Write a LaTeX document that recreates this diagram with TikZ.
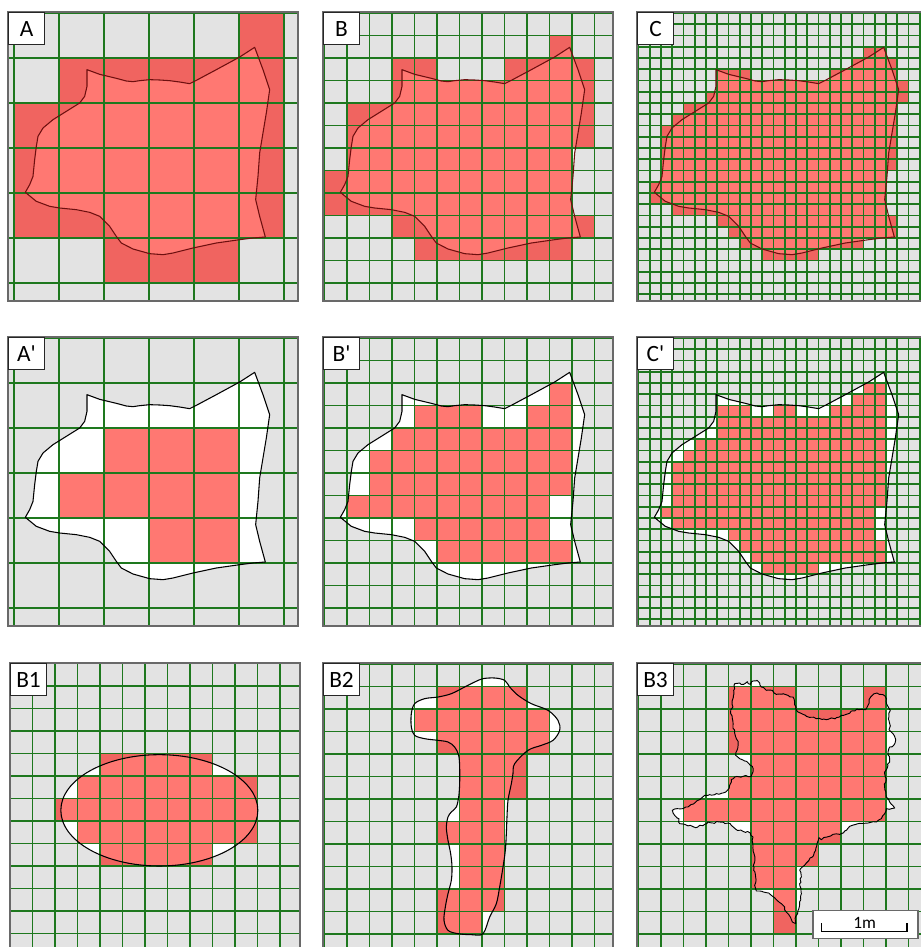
\documentclass[tikz,border=0pt]{standalone}
\usepackage{fontspec}
\newfontfamily\lblfont{Carlito}
\usetikzlibrary{decorations.pathmorphing}

\definecolor{bggray}{RGB}{227,227,227}
\definecolor{gridgreen}{RGB}{30,120,30}
\definecolor{redlight}{RGB}{255,120,114}
\definecolor{reddark}{RGB}{240,100,96}
\definecolor{rimred}{RGB}{110,15,15}
\definecolor{framegray}{RGB}{105,105,105}

\tikzset{
  gridline/.style={draw=gridgreen, line width=1.45pt},
  shapeline/.style={draw=black, line width=0.8pt, line join=round},
  rimline/.style={draw=rimred, line width=0.8pt, line join=round},
  framebox/.style={draw=framegray, line width=0.8pt},
  lbl/.style={draw=black!85, fill=white, line width=0.8pt, anchor=north west,
    minimum width=27pt, minimum height=24pt, inner sep=0pt,
    font=\lblfont\fontsize{17.5}{20}\selectfont},
  % traced outlines are given in 3x pixels, from the panel corner
  blobfit/.style={shift={(-8.333,-12.333)}, scale=1/3},
  ovalfit/.style={shift={(-10,-22.667)}, scale=1/3},
  mushfit/.style={shift={(-8.333,-22.667)}, scale=1/3},
  starfit/.style={shift={(-17.333,-22.667)}, scale=1/3},
}

% outlines
\newcommand{\blobpath}{(262,210) -- (300,224) -- (350,236) -- (380,244) -- (400,246) -- (420,243) -- (450,240) -- (480,241) -- (510,243) -- (540,247) -- (570,252) -- (590,242) -- (650,210) -- (720,172) -- (765,143) -- (790,210) -- (810,270) -- (800,340) -- (790,400) -- (780,460) -- (775,530) -- (768,600) -- (780,650) -- (797,712) -- (760,715) -- (720,720) -- (650,730) -- (580,745) -- (520,760) -- (490,765) -- (450,762) -- (400,748) -- (365,730) -- (350,710) -- (330,680) -- (300,650) -- (270,638) -- (230,630) -- (180,625) -- (150,620) -- (110,605) -- (77,578) -- (90,555) -- (100,530) -- (105,480) -- (110,440) -- (115,410) -- (130,385) -- (160,360) -- (200,335) -- (240,310) -- (255,290) -- (262,260) -- cycle}
\newcommand{\ovalpath}{(478,510) ellipse [x radius=295.5, y radius=167]}
\newcommand{\mushpath}{plot[smooth cycle, tension=0.55] coordinates {(505,115) (540,113) (570,120) (585,140) (610,165) (650,190) (700,210) (730,240) (735,270) (715,300) (680,315) (640,330) (600,370) (595,400) (590,430) (580,480) (577,530) (575,580) (572,630) (565,680) (555,740) (545,790) (525,830) (505,880) (470,883) (430,880) (400,870) (388,840) (392,800) (400,760) (410,720) (412,680) (408,640) (400,600) (395,560) (400,530) (410,515) (425,500) (432,470) (435,430) (435,380) (432,345) (420,320) (400,305) (370,300) (330,295) (300,285) (290,260) (290,220) (300,190) (330,175) (370,170) (410,160) (450,140) (480,125)}}
\newcommand{\starpath}{(345,130) -- (360,128) -- (372,132) -- (383,124) -- (392,132) -- (400,122) -- (412,120) -- (420,128) -- (425,140) -- (440,150) -- (458,150) -- (470,162) -- (490,160) -- (505,165) -- (520,170) -- (525,185) -- (528,205) -- (535,215) -- (560,228) -- (590,235) -- (620,238) -- (650,232) -- (680,222) -- (695,212) -- (715,208) -- (738,208) -- (745,195) -- (748,178) -- (758,165) -- (772,158) -- (790,163) -- (800,175) -- (803,195) -- (812,210) -- (808,228) -- (810,250) -- (808,268) -- (820,280) -- (828,300) -- (822,315) -- (810,320) -- (805,335) -- (810,355) -- (805,375) -- (795,395) -- (800,415) -- (795,440) -- (800,470) -- (810,485) -- (825,503) -- (815,505) -- (800,505) -- (795,520) -- (785,535) -- (770,545) -- (745,548) -- (715,550) -- (690,558) -- (675,572) -- (660,582) -- (640,582) -- (622,590) -- (605,598) -- (598,592) -- (592,610) -- (588,630) -- (578,650) -- (560,668) -- (548,680) -- (540,690) -- (545,710) -- (540,730) -- (545,760) -- (540,790) -- (535,810) -- (528,828) -- (528,850) -- (518,845) -- (512,830) -- (500,815) -- (495,800) -- (485,790) -- (470,778) -- (455,765) -- (440,757) -- (420,752) -- (410,752) -- (405,735) -- (408,710) -- (402,690) -- (405,665) -- (403,640) -- (400,615) -- (400,590) -- (392,578) -- (370,573) -- (350,568) -- (335,555) -- (325,548) -- (300,545) -- (280,548) -- (265,545) -- (255,552) -- (240,555) -- (228,562) -- (212,555) -- (195,552) -- (180,550) -- (178,535) -- (165,525) -- (158,510) -- (172,505) -- (190,505) -- (205,500) -- (225,488) -- (240,478) -- (255,465) -- (270,463) -- (290,460) -- (310,458) -- (325,448) -- (330,435) -- (335,418) -- (345,410) -- (370,408) -- (395,408) -- (400,395) -- (398,378) -- (388,370) -- (375,362) -- (360,355) -- (348,345) -- (352,330) -- (355,310) -- (350,295) -- (345,278) -- (340,255) -- (338,235) -- (333,215) -- (340,200) -- (338,180) -- (343,160) -- (345,145) -- cycle}

% red cells: row/first column/last column
\newcommand{\redA}{0/5/5, 1/1/5, 2/0/5, 3/0/5, 4/0/5, 5/2/4}
\newcommand{\redB}{1/10/10, 2/3/4, 2/8/11, 3/3/11, 4/1/11, 5/1/11, 6/1/10, 7/0/10, 8/0/10, 9/3/11, 10/4/10}
\newcommand{\redC}{3/20/21, 4/19/22, 5/7/9, 5/17/22, 6/7/23, 7/6/23, 8/4/22, 9/3/22, 10/2/22, 11/2/22, 12/2/22, 13/2/22, 14/2/21, 15/1/21, 16/1/21, 17/3/21, 18/7/22, 19/8/22, 20/9/19, 21/11/15}
\newcommand{\redAp}{2/2/4, 3/1/4, 4/3/4}
\newcommand{\redBp}{2/10/10, 3/4/6, 3/9/10, 4/3/10, 5/2/10, 6/2/10, 7/1/9, 8/4/9, 9/5/10}
\newcommand{\redCp}{4/20/21, 5/19/21, 6/7/9, 6/12/13, 6/17/21, 7/7/21, 8/7/21, 9/5/21, 10/4/21, 11/3/21, 12/3/21, 13/3/21, 14/3/21, 15/2/20, 16/3/20, 17/8/20, 18/9/21, 19/10/21, 20/11/15}
\newcommand{\redBone}{4/4/8, 5/3/10, 6/2/10, 7/3/10, 8/4/8}
\newcommand{\redBtwo}{1/5/8, 2/4/9, 3/5/9, 4/6/8, 5/6/8, 6/6/7, 7/5/7, 8/6/7, 9/6/7, 10/5/7, 11/5/6}
\newcommand{\redBthree}{1/4/6, 1/10/10, 2/4/10, 3/4/10, 4/5/10, 5/4/10, 6/2/10, 7/5/8, 8/5/7, 9/5/6, 10/6/6, 11/6/6}

% #1 x offset, #2 y offset, #3 cell size, #4 list, #5 colour
\newcommand{\cellrows}[5]{%
  \foreach \r/\a/\b in #4 {
    \fill[#5] ({#1+#3*\a},{#2+#3*\r}) rectangle ({#1+#3*(\b+1)},{#2+#3*(\r+1)});
  }%
}
% cells outside the shape darker, inside lighter
\newcommand{\redcells}[6]{%
  \fill[white, #5] #6;
  \cellrows{#1}{#2}{#3}{#4}{reddark}
  \begin{scope}
    \clip[#5] #6;
    \cellrows{#1}{#2}{#3}{#4}{redlight}
  \end{scope}%
}
\newcommand{\gridlines}[4]{%
  \foreach \i in {0,...,#4} {
    \draw[gridline] ({#1+#3*\i},0) -- ({#1+#3*\i},290);
    \draw[gridline] (0,{#2+#3*\i}) -- (290,{#2+#3*\i});
  }%
}

\begin{document}
\begin{tikzpicture}[x=0.75pt, y=-0.75pt]
\useasboundingbox (0,0) rectangle (921,947);

% A
\begin{scope}[shift={(8,12)}]
  \begin{scope}
    \clip (0,0) rectangle (290,289);
    \fill[bggray] (0,0) rectangle (290,289);
    \redcells{6}{1}{45}{\redA}{blobfit}{\blobpath}
    \gridlines{6}{1}{45}{6}
    \draw[rimline, blobfit] \blobpath;
  \end{scope}
  \draw[framebox] (0,0) rectangle (290,289);
  \node[lbl] (labA) at (0,0) {A};
\end{scope}

% B
\begin{scope}[shift={(323,12)}]
  \begin{scope}
    \clip (0,0) rectangle (290,289);
    \fill[bggray] (0,0) rectangle (290,289);
    \redcells{1.5}{1}{22.5}{\redB}{blobfit}{\blobpath}
    \gridlines{1.5}{1}{22.5}{12}
    \draw[rimline, blobfit] \blobpath;
  \end{scope}
  \draw[framebox] (0,0) rectangle (290,289);
  \node[lbl] (labB) at (0,0) {B};
\end{scope}

% C
\begin{scope}[shift={(637,12)}]
  \begin{scope}
    \clip (0,0) rectangle (290,289);
    \fill[bggray] (0,0) rectangle (290,289);
    \redcells{1.5}{1}{11.25}{\redC}{blobfit}{\blobpath}
    \gridlines{1.5}{1}{11.25}{25}
    \draw[rimline, blobfit] \blobpath;
  \end{scope}
  \draw[framebox] (0,0) rectangle (290,289);
  \node[lbl] (labC) at (0,0) {C};
\end{scope}

% A'
\begin{scope}[shift={(8,337)}]
  \begin{scope}
    \clip (0,0) rectangle (290,289);
    \fill[bggray] (0,0) rectangle (290,289);
    \redcells{6}{1}{45}{\redAp}{blobfit}{\blobpath}
    \gridlines{6}{1}{45}{6}
    \draw[shapeline, blobfit] \blobpath;
  \end{scope}
  \draw[framebox] (0,0) rectangle (290,289);
  \node[lbl] (labAp) at (0,0) {A'};
\end{scope}

% B'
\begin{scope}[shift={(323,337)}]
  \begin{scope}
    \clip (0,0) rectangle (290,289);
    \fill[bggray] (0,0) rectangle (290,289);
    \redcells{1.5}{1}{22.5}{\redBp}{blobfit}{\blobpath}
    \gridlines{1.5}{1}{22.5}{12}
    \draw[shapeline, blobfit] \blobpath;
  \end{scope}
  \draw[framebox] (0,0) rectangle (290,289);
  \node[lbl] (labBp) at (0,0) {B'};
\end{scope}

% C'
\begin{scope}[shift={(637,337)}]
  \begin{scope}
    \clip (0,0) rectangle (290,289);
    \fill[bggray] (0,0) rectangle (290,289);
    \redcells{1.5}{1}{11.25}{\redCp}{blobfit}{\blobpath}
    \gridlines{1.5}{1}{11.25}{25}
    \draw[shapeline, blobfit] \blobpath;
  \end{scope}
  \draw[framebox] (0,0) rectangle (290,289);
  \node[lbl] (labCp) at (0,0) {C'};
\end{scope}

% B1
\begin{scope}[shift={(10,663)}]
  \begin{scope}
    \clip (0,0) rectangle (290,289);
    \fill[bggray] (0,0) rectangle (290,289);
    \redcells{0}{0.5}{22.5}{\redBone}{ovalfit}{\ovalpath}
    \gridlines{0}{0.5}{22.5}{12}
    \draw[shapeline, ovalfit] \ovalpath;
  \end{scope}
  \draw[framebox] (0,0) rectangle (290,289);
  \node[lbl] (labBone) at (0,0) {B1};
\end{scope}

% B2
\begin{scope}[shift={(323,663)}]
  \begin{scope}
    \clip (0,0) rectangle (290,289);
    \fill[bggray] (0,0) rectangle (290,289);
    \redcells{1.5}{1}{22.5}{\redBtwo}{mushfit}{\mushpath}
    \gridlines{1.5}{1}{22.5}{12}
    \draw[shapeline, mushfit] \mushpath;
  \end{scope}
  \draw[framebox] (0,0) rectangle (290,289);
  \node[lbl] (labBtwo) at (0,0) {B2};
\end{scope}

% B3
\pgfmathsetseed{5}
\begin{scope}[shift={(637,663)}]
  \begin{scope}
    \clip (0,0) rectangle (290,289);
    \fill[bggray] (0,0) rectangle (290,289);
    \redcells{1.5}{1}{22.5}{\redBthree}{starfit}{\starpath}
    \gridlines{1.5}{1}{22.5}{12}
    \draw[shapeline, line width=0.7pt, starfit, decorate,
      decoration={random steps, segment length=2pt, amplitude=0.7pt}] \starpath;
  \end{scope}
  \draw[framebox] (0,0) rectangle (290,289);
  \node[lbl] (labBthree) at (0,0) {B3};
  % scale bar
  \draw[framegray, fill=white, line width=0.8pt] (176,247.3) rectangle (281,275.6);
  \draw[line width=0.8pt] (184.3,260) -- (184.3,268.3) -- (270,268.3) -- (270,260);
  \node[font=\lblfont\fontsize{13}{15}\selectfont, anchor=base, inner sep=0pt] (onem) at (227.7,265.5) {1m};
\end{scope}

\end{tikzpicture}
\end{document}
